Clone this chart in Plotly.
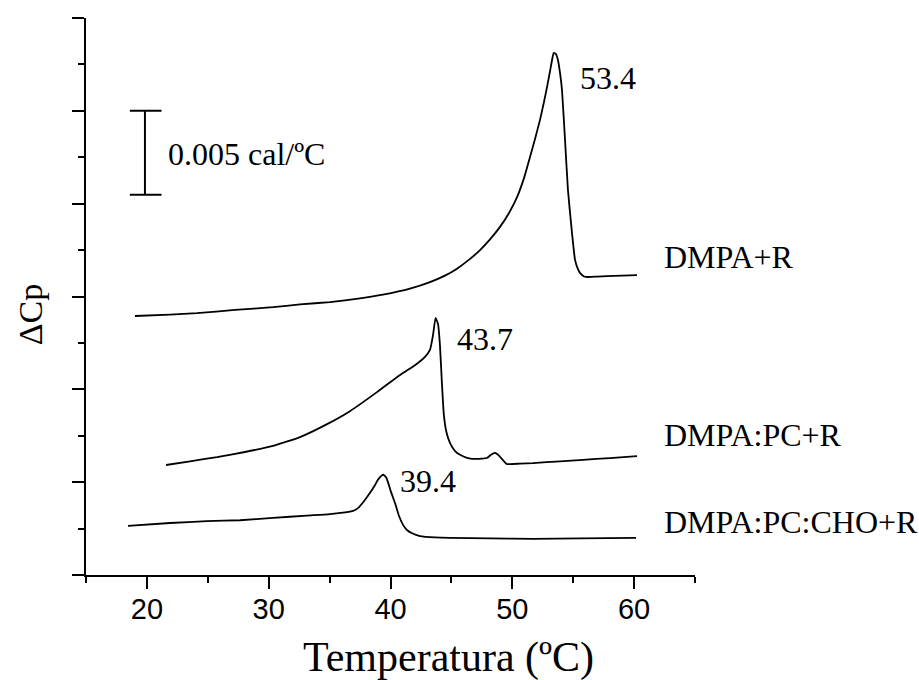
import plotly.graph_objects as go

# ---- DSC thermograms (temperature in ºC, excess heat capacity in arbitrary offset units) ----
t_dmpa_r = [19.02, 21.90, 24.11, 27.23, 30.35, 32.57, 35.03, 37.50, 39.38, 41.60, 43.24, 44.47,
            45.46, 46.53, 47.35, 48.17, 48.99, 49.73, 50.39, 50.96, 51.45, 51.86, 52.27, 52.60,
            52.85, 53.10, 53.26, 53.4, 53.59, 53.75, 53.92, 54.08, 54.33, 54.57, 54.90, 55.15,
            55.39, 55.56, 55.89, 56.13, 56.95, 57.78, 60.24]
cp_dmpa_r = [5.58, 5.61, 5.64, 5.71, 5.77, 5.83, 5.88, 5.96, 6.04, 6.17, 6.31, 6.45,
             6.60, 6.81, 7.00, 7.23, 7.50, 7.80, 8.14, 8.55, 9.00, 9.39, 9.80, 10.19,
             10.51, 10.86, 11.09, 11.25, 11.22, 11.09, 10.81, 10.45, 9.37, 8.29, 7.37, 6.79,
             6.59, 6.51, 6.43, 6.42, 6.43, 6.44, 6.46]

t_dmpa_pc_r = [21.57, 23.54, 25.76, 28.05, 30.35, 32.57, 34.79, 36.67, 38.89, 40.78, 42.01,
               42.83, 43.24, 43.49, 43.7, 43.90, 44.06, 44.22, 44.38, 44.59, 44.89, 45.30,
               45.71, 46.36, 47.10, 47.92, 48.25, 48.58, 48.83, 49.15, 49.56, 50.63, 51.70,
               53.92, 55.80, 58.02, 60.24]
cp_dmpa_pc_r = [2.37, 2.45, 2.54, 2.65, 2.78, 2.97, 3.25, 3.53, 3.94, 4.31, 4.52,
                4.70, 4.85, 5.17, 5.54, 5.41, 4.95, 4.14, 3.45, 3.08, 2.84, 2.67,
                2.59, 2.52, 2.50, 2.52, 2.59, 2.63, 2.59, 2.50, 2.39, 2.40, 2.41,
                2.45, 2.48, 2.52, 2.56]

t_dmpa_pc_cho_r = [18.45, 21.90, 24.93, 27.64, 30.35, 33.14, 35.03, 36.92, 37.33, 37.82, 38.32,
                   38.73, 38.97, 39.22, 39.4, 39.63, 39.79, 40.04, 40.37, 40.70, 41.03, 41.35,
                   41.77, 42.42, 43.65, 44.89, 48.17, 51.70, 55.56, 60.16]
cp_dmpa_pc_cho_r = [1.06, 1.12, 1.16, 1.18, 1.23, 1.28, 1.31, 1.38, 1.44, 1.59, 1.77,
                    1.94, 2.05, 2.13, 2.16, 2.11, 2.00, 1.79, 1.55, 1.27, 1.08, 0.97,
                    0.90, 0.84, 0.81, 0.80, 0.79, 0.78, 0.79, 0.80]

series_names = ["DMPA+R", "DMPA:PC+R", "DMPA:PC:CHO+R"]
series_t = [t_dmpa_r, t_dmpa_pc_r, t_dmpa_pc_cho_r]
series_cp = [cp_dmpa_r, cp_dmpa_pc_r, cp_dmpa_pc_cho_r]
peak_temps = [53.4, 43.7, 39.4]

x_ticks = [20, 30, 40, 50, 60]
scale_label = "0.005 cal/ºC"

SERIF = "Liberation Serif, Times New Roman, serif"
SANS = "Liberation Sans, Arial, sans-serif"

fig = go.Figure()

for t, cp in zip(series_t, series_cp):
    fig.add_trace(go.Scatter(x=t, y=cp, mode="lines",
                             line=dict(color="black", width=1.8, shape="spline", smoothing=0.4),
                             showlegend=False, hoverinfo="skip"))

annotations = []

# peak temperature labels placed just right of each maximum
label_offsets = [(2.0, -0.54), (1.6, -0.46), (1.22, -0.14)]
for t, cp, tp, (dx, dy) in zip(series_t, series_cp, peak_temps, label_offsets):
    ymax = cp[t.index(tp)]
    annotations.append(dict(x=tp + dx, y=ymax + dy, xref="x", yref="y", text=f"{tp:.1f}",
                            showarrow=False, xanchor="left", yanchor="middle",
                            font=dict(family=SERIF, size=32, color="black")))

# sample names at the right end of each trace
name_y = [6.85, 3.02, 1.14]
for name, y in zip(series_names, name_y):
    annotations.append(dict(x=62.3, y=y, xref="x", yref="y", text=name, showarrow=False,
                            xanchor="left", yanchor="middle",
                            font=dict(family=SERIF, size=32, color="black")))

# scale bar label
annotations.append(dict(x=21.55, y=9.07, xref="x", yref="y", text=scale_label, showarrow=False,
                        xanchor="left", yanchor="middle",
                        font=dict(family=SERIF, size=32, color="black")))

# axis titles
annotations.append(dict(x=0.596, y=-0.148, xref="paper", yref="paper", text="Temperatura (ºC)",
                        showarrow=False, xanchor="center", yanchor="middle",
                        font=dict(family=SERIF, size=42, color="black")))
annotations.append(dict(x=-0.092, y=0.468, xref="paper", yref="paper", text="ΔCp",
                        showarrow=False, xanchor="center", yanchor="middle", textangle=-90,
                        font=dict(family=SERIF, size=34, color="black")))

shapes = [
    # scale bar
    dict(type="line", xref="x", yref="y", x0=19.84, x1=19.84, y0=8.19, y1=10.0,
         line=dict(color="black", width=2)),
    dict(type="line", xref="x", yref="y", x0=18.6, x1=21.2, y0=10.0, y1=10.0,
         line=dict(color="black", width=2)),
    dict(type="line", xref="x", yref="y", x0=18.6, x1=21.2, y0=8.19, y1=8.19,
         line=dict(color="black", width=2)),
]

fig.update_layout(
    width=919, height=680,
    margin=dict(l=86, r=224, t=18, b=105),
    paper_bgcolor="white", plot_bgcolor="white",
    annotations=annotations, shapes=shapes,
    xaxis=dict(range=[15, 65], tickvals=x_ticks, ticktext=[str(v) for v in x_ticks],
               ticks="outside", ticklen=12, tickwidth=2, tickcolor="black",
               ticklabelstandoff=-5,
               minor=dict(dtick=5, tick0=0, ticks="outside", ticklen=6, tickwidth=2,
                          tickcolor="black"),
               showline=True, linecolor="black", linewidth=2, showgrid=False, zeroline=False,
               tickfont=dict(family=SANS, size=29, color="black")),
    yaxis=dict(range=[0, 12], tick0=0, dtick=2, ticks="outside", ticklen=12, tickwidth=2,
               tickcolor="black",
               minor=dict(dtick=1, tick0=0, ticks="outside", ticklen=6, tickwidth=2,
                          tickcolor="black"),
               showticklabels=False, showline=True, linecolor="black", linewidth=2,
               showgrid=False, zeroline=False),
)

fig.write_html("out.html")
